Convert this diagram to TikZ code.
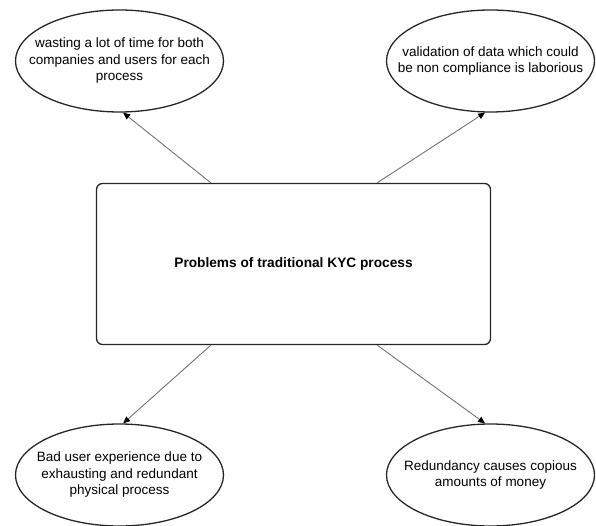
\documentclass[tikz,border=0pt]{standalone}
\usepackage{fontspec}
\setmainfont{Liberation Sans}
\usetikzlibrary{arrows.meta,shapes.geometric}

\begin{document}
\begin{tikzpicture}[x=1pt,y=-1pt,>={Triangle[length=7pt,width=6pt,color=black]},link/.style={->, draw=gray!90!black, line width=0.9pt},bubble/.style={draw=black!85, ellipse, line width=1.3pt, minimum width=208pt, minimum height=102pt, inner xsep=-45pt, inner ysep=0pt, align=center, font=\fontsize{13.5}{16.5}\selectfont},problem/.style={draw=black!85, rounded corners=6pt, line width=1.3pt, minimum width=394pt, minimum height=161pt, font=\fontsize{13.7}{16}\selectfont\bfseries}]
\useasboundingbox (0,0) rectangle (596,526);
\node[problem] (kyc) at (293.5,264) {Problems of traditional KYC process};
\node[bubble] (time) at (119.5,61) {wasting a lot of time for both\\ companies and users for each\\ process};
\node[bubble] (valid) at (490.5,61) {validation of data which could\\ be non compliance is laborious};
\node[bubble] (exp) at (119.5,475) {Bad user experience due to\\ exhausting and redundant\\ physical process};
\node[bubble] (money) at (490.5,475) {Redundancy causes copious\\ amounts of money};
\draw[link] ([xshift=115pt]kyc.north west) -- (time.-86);
\draw[link] ([xshift=-114pt]kyc.north east) -- (valid.-96);
\draw[link] ([xshift=115pt]kyc.south west) -- (exp.86);
\draw[link] ([xshift=-114pt]kyc.south east) -- (money.96);
\end{tikzpicture}
\end{document}
